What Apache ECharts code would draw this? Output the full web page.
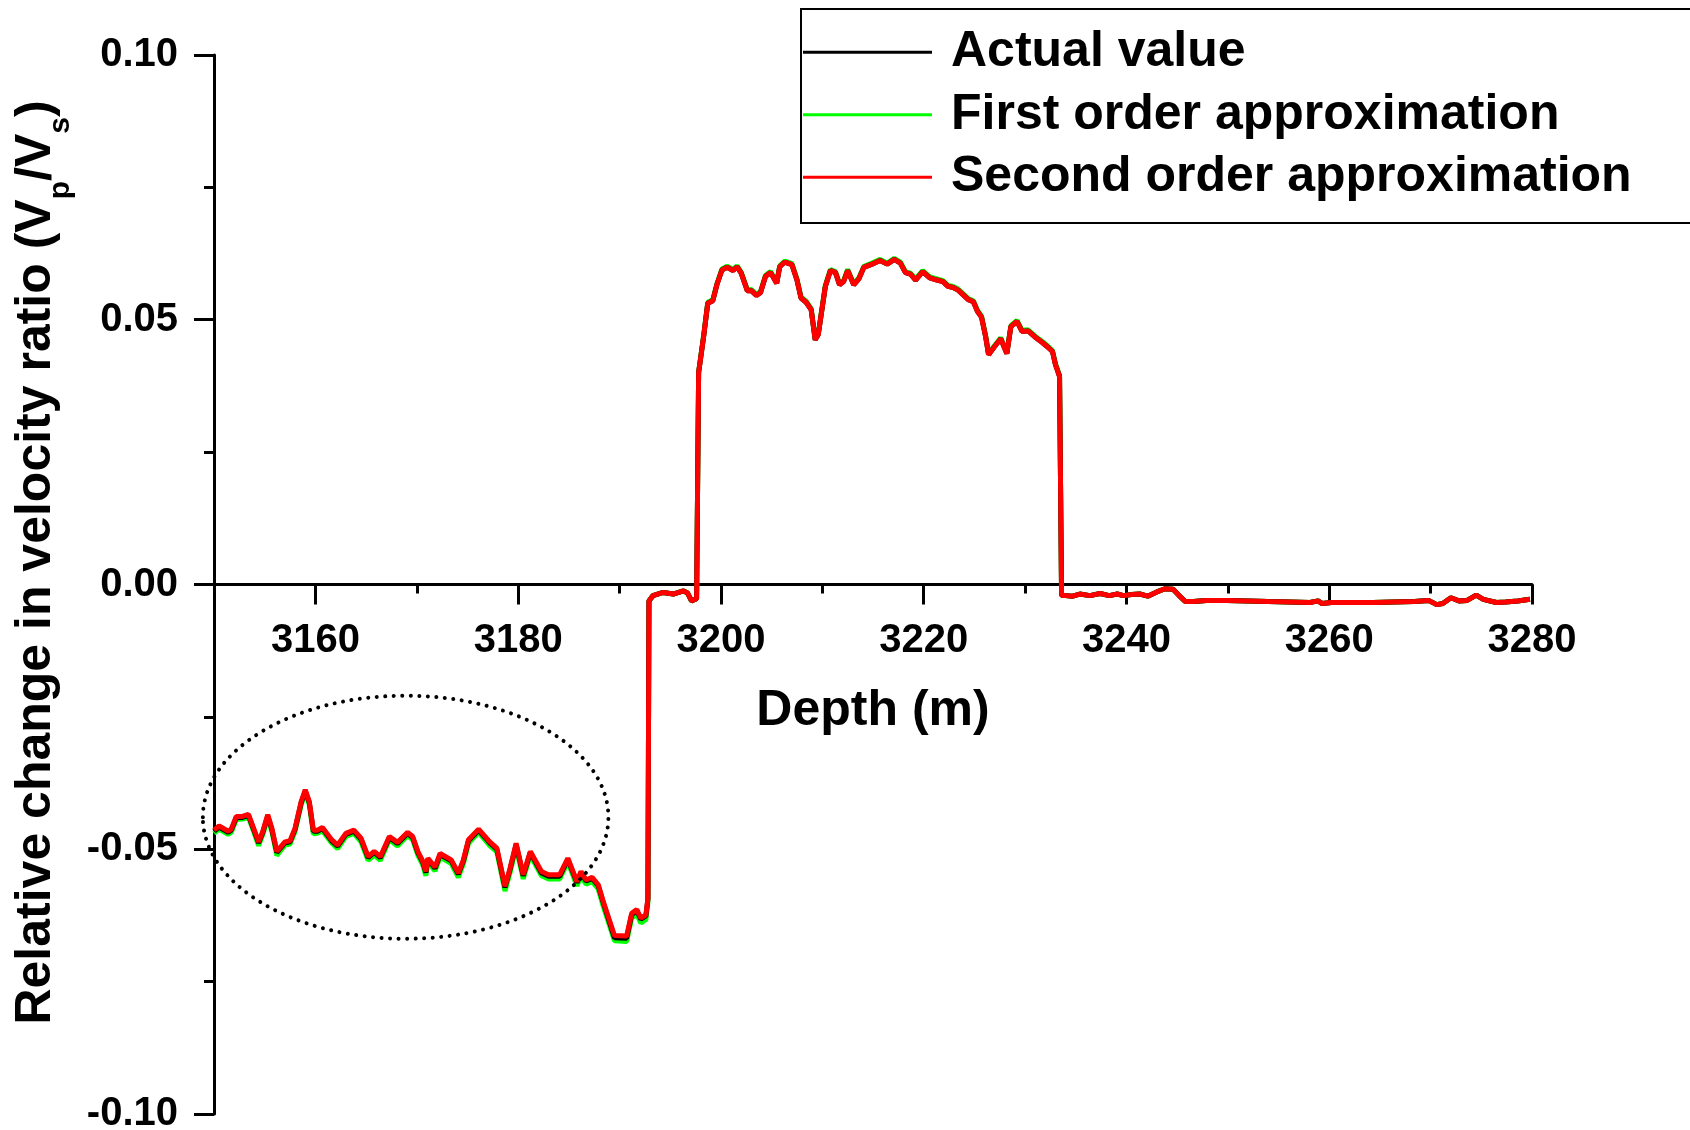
<!DOCTYPE html>
<html>
<head>
<meta charset="utf-8">
<script src="https://cdn.jsdelivr.net/npm/echarts@6/dist/echarts.min.js"></script>
<style>
html,body{margin:0;padding:0;background:#fff;}
#chart{width:1690px;height:1130px;}
</style>
</head>
<body>
<div id="chart"></div>
<script>
// ---- data ----
const seriesNames = ['Actual value', 'First order approximation', 'Second order approximation'];
const seriesColors = ['#000000', '#00ff00', '#ff0000'];

const depth = [
3150.0,3150.5,3151.4,3151.7,3152.2,3152.8,3153.4,3153.9,3154.4,3154.8,
3155.3,3155.7,3156.2,3157.0,3157.5,3158.0,3158.6,3159.0,3159.4,3159.8,
3160.2,3160.7,3161.6,3162.2,3163.0,3163.8,3164.5,3165.2,3165.8,3166.4,
3167.3,3168.1,3169.1,3169.6,3170.1,3170.6,3170.9,3171.1,3171.8,3172.3,
3173.4,3174.1,3174.6,3175.1,3176.1,3177.2,3177.9,3178.7,3179.2,3179.8,
3180.5,3181.2,3182.3,3183.0,3184.1,3184.9,3185.8,3186.2,3186.7,3187.3,
3187.9,3188.4,3189.5,3190.7,3191.2,3191.7,3192.1,3192.6,3192.8,3192.9,
3193.3,3194.3,3195.3,3196.3,3196.7,3197.1,3197.6,3197.8,3198.3,3198.7,
3199.2,3199.6,3200.1,3200.6,3201.2,3201.6,3202.0,3202.6,3203.0,3203.5,
3203.9,3204.4,3204.9,3205.5,3205.8,3206.3,3207.0,3207.5,3207.9,3208.4,
3208.9,3209.3,3209.6,3210.3,3210.8,3211.3,3211.7,3212.1,3212.5,3213.1,
3213.6,3214.1,3214.9,3215.7,3216.4,3217.1,3217.7,3218.2,3218.7,3219.2,
3219.9,3220.6,3221.3,3221.9,3222.4,3222.9,3223.4,3223.9,3224.4,3224.9,
3225.3,3225.7,3226.1,3226.4,3226.9,3227.6,3228.2,3228.6,3229.2,3229.7,
3230.3,3231.0,3231.7,3232.2,3232.7,3233.0,3233.4,3233.6,3234.0,3234.7,
3235.4,3236.4,3237.4,3238.3,3239.1,3239.7,3240.5,3241.3,3242.1,3243.0,
3243.8,3244.6,3245.2,3245.8,3246.6,3247.9,3249.9,3252.0,3254.0,3256.1,
3258.1,3258.9,3259.3,3260.2,3262.2,3264.3,3266.3,3268.4,3269.8,3270.6,
3271.2,3272.0,3272.8,3273.6,3274.5,3275.2,3276.5,3277.4,3278.6,3279.8
];

const secondOrder = [
-0.0464,-0.0456,-0.0466,-0.0462,-0.0438,-0.0438,-0.0434,-0.0460,-0.0486,-0.0467,
-0.0435,-0.0460,-0.0504,-0.0486,-0.0484,-0.0460,-0.0410,-0.0388,-0.0410,-0.0464,
-0.0464,-0.0459,-0.0482,-0.0492,-0.0470,-0.0464,-0.0479,-0.0514,-0.0504,-0.0514,
-0.0476,-0.0487,-0.0468,-0.0476,-0.0504,-0.0523,-0.0542,-0.0517,-0.0534,-0.0508,
-0.0520,-0.0545,-0.0520,-0.0482,-0.0462,-0.0486,-0.0498,-0.0570,-0.0536,-0.0489,
-0.0548,-0.0504,-0.0542,-0.0548,-0.0548,-0.0517,-0.0561,-0.0542,-0.0558,-0.0553,
-0.0567,-0.0599,-0.0663,-0.0664,-0.0621,-0.0614,-0.0630,-0.0624,-0.0592,-0.0031,
-0.0021,-0.0015,-0.0018,-0.0012,-0.0016,-0.0031,-0.0027,0.0400,0.0469,0.0531,
0.0536,0.0566,0.0594,0.0599,0.0593,0.0600,0.0588,0.0555,0.0555,0.0546,
0.0551,0.0582,0.0589,0.0569,0.0600,0.0609,0.0604,0.0575,0.0541,0.0533,
0.0519,0.0462,0.0472,0.0563,0.0593,0.0589,0.0566,0.0572,0.0593,0.0566,
0.0577,0.0599,0.0605,0.0612,0.0605,0.0614,0.0607,0.0589,0.0586,0.0575,
0.0591,0.0579,0.0575,0.0572,0.0563,0.0561,0.0556,0.0547,0.0538,0.0534,
0.0516,0.0505,0.0469,0.0434,0.0447,0.0464,0.0436,0.0487,0.0497,0.0478,
0.0479,0.0467,0.0457,0.0449,0.0440,0.0415,0.0393,-0.0021,-0.0021,-0.0022,
-0.0018,-0.0021,-0.0017,-0.0021,-0.0018,-0.0021,-0.0019,-0.0018,-0.0022,-0.0014,
-0.0008,-0.0009,-0.0021,-0.0032,-0.0032,-0.0030,-0.0030,-0.0031,-0.0032,-0.0033,
-0.0034,-0.0031,-0.0036,-0.0034,-0.0034,-0.0034,-0.0033,-0.0032,-0.0030,-0.0038,
-0.0036,-0.0025,-0.0031,-0.0030,-0.0020,-0.0028,-0.0034,-0.0033,-0.0031,-0.0028
];

const firstOrder = [
-0.0470,-0.0462,-0.0472,-0.0468,-0.0444,-0.0443,-0.0440,-0.0466,-0.0493,-0.0473,
-0.0441,-0.0466,-0.0512,-0.0492,-0.0490,-0.0466,-0.0416,-0.0393,-0.0416,-0.0471,
-0.0470,-0.0465,-0.0488,-0.0499,-0.0476,-0.0470,-0.0486,-0.0521,-0.0511,-0.0521,
-0.0482,-0.0494,-0.0474,-0.0482,-0.0511,-0.0530,-0.0550,-0.0524,-0.0541,-0.0515,
-0.0527,-0.0553,-0.0527,-0.0489,-0.0468,-0.0493,-0.0505,-0.0579,-0.0544,-0.0496,
-0.0556,-0.0511,-0.0550,-0.0556,-0.0556,-0.0524,-0.0569,-0.0550,-0.0566,-0.0561,
-0.0575,-0.0608,-0.0673,-0.0674,-0.0630,-0.0623,-0.0639,-0.0633,-0.0600,-0.0031,
-0.0021,-0.0015,-0.0018,-0.0012,-0.0016,-0.0031,-0.0027,0.0401,0.0471,0.0533,
0.0538,0.0568,0.0596,0.0601,0.0595,0.0602,0.0590,0.0557,0.0557,0.0548,
0.0553,0.0584,0.0591,0.0571,0.0602,0.0611,0.0606,0.0577,0.0543,0.0535,
0.0521,0.0464,0.0474,0.0565,0.0595,0.0591,0.0568,0.0574,0.0595,0.0568,
0.0579,0.0601,0.0607,0.0614,0.0607,0.0616,0.0609,0.0591,0.0588,0.0577,
0.0593,0.0581,0.0577,0.0574,0.0565,0.0563,0.0558,0.0549,0.0540,0.0536,
0.0518,0.0507,0.0471,0.0436,0.0449,0.0466,0.0438,0.0489,0.0499,0.0480,
0.0481,0.0469,0.0459,0.0451,0.0442,0.0417,0.0395,-0.0021,-0.0021,-0.0022,
-0.0018,-0.0021,-0.0017,-0.0021,-0.0018,-0.0021,-0.0019,-0.0018,-0.0022,-0.0014,
-0.0008,-0.0009,-0.0021,-0.0032,-0.0032,-0.0030,-0.0030,-0.0031,-0.0032,-0.0033,
-0.0034,-0.0031,-0.0036,-0.0034,-0.0034,-0.0034,-0.0033,-0.0032,-0.0030,-0.0038,
-0.0036,-0.0025,-0.0031,-0.0030,-0.0020,-0.0028,-0.0034,-0.0033,-0.0031,-0.0028
];

const actualValue = [
-0.0466,-0.0458,-0.0468,-0.0464,-0.0440,-0.0440,-0.0436,-0.0462,-0.0488,-0.0469,
-0.0437,-0.0462,-0.0506,-0.0488,-0.0486,-0.0462,-0.0412,-0.0390,-0.0412,-0.0466,
-0.0466,-0.0461,-0.0484,-0.0494,-0.0472,-0.0466,-0.0481,-0.0516,-0.0506,-0.0516,
-0.0478,-0.0489,-0.0470,-0.0478,-0.0506,-0.0525,-0.0544,-0.0519,-0.0536,-0.0510,
-0.0522,-0.0547,-0.0522,-0.0484,-0.0464,-0.0488,-0.0500,-0.0572,-0.0538,-0.0491,
-0.0550,-0.0506,-0.0545,-0.0551,-0.0551,-0.0519,-0.0563,-0.0544,-0.0560,-0.0555,
-0.0569,-0.0601,-0.0667,-0.0668,-0.0623,-0.0616,-0.0632,-0.0626,-0.0594,-0.0031,
-0.0021,-0.0015,-0.0018,-0.0012,-0.0016,-0.0031,-0.0027,0.0400,0.0469,0.0531,
0.0536,0.0566,0.0594,0.0599,0.0593,0.0600,0.0588,0.0555,0.0555,0.0546,
0.0551,0.0582,0.0589,0.0569,0.0600,0.0609,0.0604,0.0575,0.0541,0.0533,
0.0519,0.0462,0.0472,0.0563,0.0593,0.0589,0.0566,0.0572,0.0593,0.0566,
0.0577,0.0599,0.0605,0.0612,0.0605,0.0614,0.0607,0.0589,0.0586,0.0575,
0.0591,0.0579,0.0575,0.0572,0.0563,0.0561,0.0556,0.0547,0.0538,0.0534,
0.0516,0.0505,0.0469,0.0434,0.0447,0.0464,0.0436,0.0487,0.0497,0.0478,
0.0479,0.0467,0.0457,0.0449,0.0440,0.0415,0.0393,-0.0021,-0.0021,-0.0022,
-0.0018,-0.0021,-0.0017,-0.0021,-0.0018,-0.0021,-0.0019,-0.0018,-0.0022,-0.0014,
-0.0008,-0.0009,-0.0021,-0.0032,-0.0032,-0.0030,-0.0030,-0.0031,-0.0032,-0.0033,
-0.0034,-0.0031,-0.0036,-0.0034,-0.0034,-0.0034,-0.0033,-0.0032,-0.0030,-0.0038,
-0.0036,-0.0025,-0.0031,-0.0030,-0.0020,-0.0028,-0.0034,-0.0033,-0.0031,-0.0028
];

const xMajorTicks = [3160, 3180, 3200, 3220, 3240, 3260, 3280];
// dotted ellipse annotation, in data units: [depthMin, depthMax, valueMin, valueMax]
const ellipseBox = [3148.9, 3188.9, -0.0669, -0.0210];

// ---- chart ----
const FONT = '"Liberation Sans", Arial, Helvetica, sans-serif';
const chart = echarts.init(document.getElementById('chart'), null, {renderer: 'canvas'});

function pairs(vals) { return depth.map((d, i) => [d, vals[i]]); }

const lineW = 3;
const GRID_L = 214, GRID_R = 158, GRID_T = 55, GRID_B = 16;
const H = 1130;
// y pixel of value 0 (midpoint of symmetric -0.1..0.1 range)
const zeroY = GRID_T + (H - GRID_T - GRID_B) / 2;
const legendBox = { type: 'rect', z: 100, silent: true,
  shape: { x: 801, y: 9, width: 1000, height: 214 },
  style: { fill: 'none', stroke: '#000', lineWidth: 2 } };

const option = {
  backgroundColor: '#ffffff',
  animation: false,
  grid: [
    { left: GRID_L, right: GRID_R, top: GRID_T, bottom: GRID_B, containLabel: false, outerBoundsMode: 'none' },
    // upper half: its bottom edge is the zero line, which carries the depth axis
    { left: GRID_L, right: GRID_R, top: GRID_T, bottom: H - zeroY, containLabel: false, outerBoundsMode: 'none' }
  ],
  legend: {
    data: seriesNames,
    orient: 'vertical',
    left: 803, top: 21,
    padding: 0,
    itemGap: 0,
    itemWidth: 129,
    itemHeight: 3,
    icon: 'rect',
    selectedMode: false,
    textStyle: { fontFamily: FONT, fontSize: 50, fontWeight: 'bold', color: '#000', lineHeight: 62.5, padding: [0, 0, 0, 14] }
  },
  graphic: [legendBox],
  xAxis: [{
    gridIndex: 0, type: 'value', min: 3150, max: 3280, show: false
  }, {
    gridIndex: 1, type: 'value', min: 3150, max: 3280, interval: 10, position: 'bottom',
    name: 'Depth (m)', nameLocation: 'middle', nameGap: 102,
    nameTextStyle: { fontFamily: FONT, fontSize: 50, fontWeight: 'bold', color: '#000' },
    axisLine: { show: true, onZero: false, lineStyle: { color: '#000', width: lineW } },
    axisTick: { show: true, length: 20, customValues: xMajorTicks, lineStyle: { color: '#000', width: lineW } },
    axisLabel: { show: true, margin: 36, customValues: xMajorTicks, interval: 0,
      formatter: v => (v % 20 === 0 ? String(v) : ''),
      fontFamily: FONT, fontSize: 40, fontWeight: 'bold', color: '#000' },
    splitLine: { show: false }
  }, {
    gridIndex: 1, type: 'value', min: 3150, max: 3280, interval: 20, position: 'bottom',
    axisLine: { show: false, onZero: false },
    axisTick: { show: true, length: 9, lineStyle: { color: '#000', width: lineW } },
    axisLabel: { show: false },
    splitLine: { show: false }
  }],
  yAxis: [{
    gridIndex: 0, type: 'value', min: -0.1, max: 0.1, interval: 0.05,
    name: '{a|Relative change in velocity ratio (V}{s|p}{a|/V}{s|s}{a|)}',
    nameLocation: 'middle', nameGap: 131, nameRotate: 90,
    nameTextStyle: {
      padding: [0, 0, 0, 44],
      rich: {
        a: { fontFamily: FONT, fontSize: 50, fontWeight: 'bold', color: '#000', lineHeight: 80, verticalAlign: 'middle' },
        s: { fontFamily: FONT, fontSize: 30, fontWeight: 'bold', color: '#000', lineHeight: 29, verticalAlign: 'bottom' }
      }
    },
    axisLine: { show: true, onZero: false, lineStyle: { color: '#000', width: lineW } },
    axisTick: { show: true, length: 20, lineStyle: { color: '#000', width: lineW } },
    minorTick: { show: true, splitNumber: 2, length: 10, lineStyle: { color: '#000', width: lineW } },
    axisLabel: { margin: 36, formatter: v => v.toFixed(2), fontFamily: FONT, fontSize: 40, fontWeight: 'bold', color: '#000' },
    splitLine: { show: false },
    minorSplitLine: { show: false }
  }, {
    gridIndex: 1, type: 'value', min: 0, max: 1, show: false
  }],
  series: [
    { name: seriesNames[0], type: 'line', xAxisIndex: 0, yAxisIndex: 0, data: pairs(actualValue), showSymbol: false, symbol: 'none', z: 3,
      color: seriesColors[0], lineStyle: { color: seriesColors[0], width: 5 } },
    { name: seriesNames[1], type: 'line', xAxisIndex: 0, yAxisIndex: 0, data: pairs(firstOrder), showSymbol: false, symbol: 'none', z: 2,
      color: seriesColors[1], lineStyle: { color: seriesColors[1], width: 5 } },
    { name: seriesNames[2], type: 'line', xAxisIndex: 0, yAxisIndex: 0, data: pairs(secondOrder), showSymbol: false, symbol: 'none', z: 4,
      color: seriesColors[2], lineStyle: { color: seriesColors[2], width: 5 } }
  ]
};
chart.setOption(option);

// dotted ellipse, positioned through the chart's own coordinate conversion
const p1 = chart.convertToPixel({ gridIndex: 0 }, [ellipseBox[0], ellipseBox[3]]);
const p2 = chart.convertToPixel({ gridIndex: 0 }, [ellipseBox[1], ellipseBox[2]]);
chart.setOption({
  graphic: [legendBox, {
    type: 'ellipse', z: 50, silent: true,
    shape: { cx: (p1[0] + p2[0]) / 2, cy: (p1[1] + p2[1]) / 2, rx: Math.abs(p2[0] - p1[0]) / 2, ry: Math.abs(p2[1] - p1[1]) / 2 },
    style: { fill: 'none', stroke: '#000', lineWidth: 4, lineDash: [0.01, 8.5], lineCap: 'round' }
  }]
});
</script>
</body>
</html>
